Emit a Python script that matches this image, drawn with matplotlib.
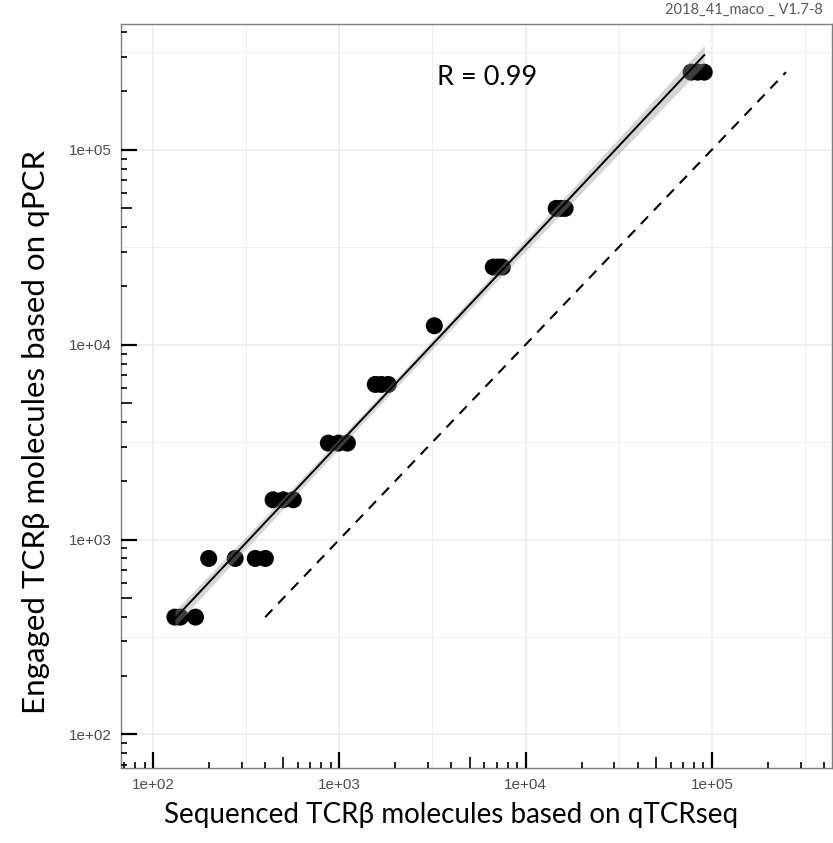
import numpy as np
import matplotlib
matplotlib.use("Agg")
import matplotlib.pyplot as plt
from matplotlib.ticker import FixedLocator, FuncFormatter

# Sequenced TCRb molecules (qTCRseq) vs engaged TCRb molecules (qPCR)
seq_x = [131, 140, 169,
         199, 276, 354, 401,
         441, 500, 566,
         873, 988, 1105,
         1560, 1680, 1832,
         3236,
         6710, 7100, 7500,
         14600, 15500, 16300,
         77400, 84000, 91000]
qpcr_y = [400, 400, 400,
          800, 800, 800, 800,
          1600, 1600, 1600,
          3125, 3125, 3125,
          6250, 6250, 6250,
          12500,
          25000, 25000, 25000,
          50000, 50000, 50000,
          250000, 250000, 250000]
decade_ticks = [1e2, 1e3, 1e4, 1e5]
r_label = "R = 0.99"
version_label = "2018_41_maco _ V1.7-8"

title_font = ["Lato", "DejaVu Sans"]

fig = plt.figure(figsize=(8.33, 8.43), dpi=100)
ax = fig.add_axes([121 / 833, 1 - 768 / 843, 711 / 833, 744 / 843])

lo, hi = 10 ** 1.828, 10 ** 5.645
ax.set_xscale("log")
ax.set_yscale("log")
ax.set_xlim(lo, hi)
ax.set_ylim(lo, hi)

# grid: major at decades, minor halfway in log space
for k in range(1, 7):
    for v, lw in [(10.0 ** k, 1.1), (10.0 ** (k + 0.5), 0.6)]:
        if lo < v < hi:
            ax.axvline(v, color="#ebebeb", lw=lw, zorder=0)
            ax.axhline(v, color="#ebebeb", lw=lw, zorder=0)

# points
ax.scatter(seq_x, qpcr_y, s=150, color="black", edgecolors="none", zorder=2)

# linear fit in log-log space with confidence band
lx = np.log10(seq_x)
ly = np.log10(qpcr_y)
b, a = np.polyfit(lx, ly, 1)
n = len(lx)
resid = ly - (a + b * lx)
s = np.sqrt(np.sum(resid ** 2) / (n - 2))
sxx = np.sum((lx - lx.mean()) ** 2)
gx = np.linspace(lx.min(), lx.max(), 100)
gy = a + b * gx
se = s * np.sqrt(1 / n + (gx - lx.mean()) ** 2 / sxx)
ax.fill_between(10 ** gx, 10 ** (gy - 1.6 * se), 10 ** (gy + 1.6 * se),
                color="#999999", alpha=0.4, lw=0, zorder=3)
ax.plot(10 ** gx, 10 ** gy, color="black", lw=1.4, zorder=4)

# identity line
ident = [min(qpcr_y), max(qpcr_y)]
ax.plot(ident, ident, color="black", lw=1.5, ls=(0, (5, 4)), zorder=4)

# log ticks drawn inside the panel
xt = ax.get_xaxis_transform()
yt = ax.get_yaxis_transform()
for k in range(1, 6):
    for m in range(1, 10):
        v = m * 10.0 ** k
        if not (lo <= v <= hi):
            continue
        L = 16 if m == 1 else (11 if m == 5 else 6)
        w = 1.6 if m == 1 else 1.2
        ax.plot([v, v], [0, L / 744], transform=xt, color="black", lw=w,
                solid_capstyle="butt", zorder=5, clip_on=False)
        ax.plot([0, L / 711], [v, v], transform=yt, color="black", lw=w,
                solid_capstyle="butt", zorder=5, clip_on=False)

fmt = FuncFormatter(lambda v, p: "1e+%02d" % round(np.log10(v)))
for axis in (ax.xaxis, ax.yaxis):
    axis.set_major_locator(FixedLocator(decade_ticks))
    axis.set_major_formatter(fmt)
    axis.set_minor_locator(FixedLocator([]))
ax.tick_params(length=0, pad=7, labelsize=11, labelcolor="#4d4d4d")
for lab in ax.get_xticklabels() + ax.get_yticklabels():
    lab.set_family(["Liberation Sans", "DejaVu Sans"])

for sp in ax.spines.values():
    sp.set_color("#7f7f7f")
    sp.set_linewidth(1.0)

ax.text(10 ** 3.525, 10 ** 5.37, r_label, fontsize=19.5, family=title_font,
        ha="left", va="center")

fig.text(0.5415, 1 - 815 / 843, "Sequenced TCRβ molecules based on qTCRseq",
         fontsize=20, family=title_font, ha="center", va="center")
fig.text(36 / 833, 1 - 432 / 843, "Engaged TCRβ molecules based on qPCR",
         fontsize=22.5, family=title_font, ha="center", va="center", rotation=90)
fig.text(823 / 833, 1 - 10 / 843, version_label, fontsize=10.5,
         family=title_font, color="#595959", ha="right", va="center")

fig.savefig("out.png", dpi=100)
